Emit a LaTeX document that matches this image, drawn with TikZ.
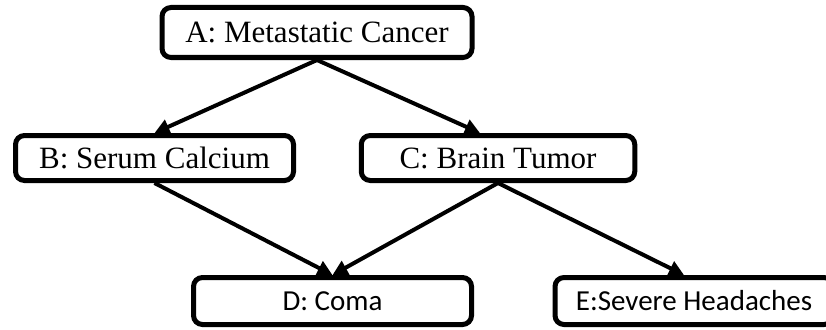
\documentclass[tikz,border=0pt]{standalone}
\usepackage{fontspec}
\setmainfont{Liberation Serif}
\newfontfamily\carlitofont{Carlito}
\usetikzlibrary{arrows.meta,calc}
\begin{document}
\begin{tikzpicture}[x=1pt,y=-1pt,
  box/.style={draw=black, line width=5pt, rounded corners=9pt, inner sep=0pt, fill=white},
  serifbox/.style={box, font=\fontsize{31}{36}\selectfont},
  sansbox/.style={box, font=\carlitofont\fontsize{29}{34}\selectfont},
  link/.style={line width=4pt, -{Triangle[length=15pt,width=15pt]}}]
\useasboundingbox (0,0) rectangle (826,329);
% nodes of the network
\node[serifbox, minimum width=310pt, minimum height=50pt] (A) at (317,32.5) {A: Metastatic Cancer};
\node[serifbox, minimum width=278pt, minimum height=45pt] (B) at (154.5,158) {B: Serum Calcium};
\node[serifbox, minimum width=273.5pt, minimum height=45pt] (C) at (498,158) {C: Brain Tumor};
\node[sansbox, minimum width=278pt, minimum height=47pt] (D) at (332.5,301) {D: Coma};
\node[sansbox, minimum width=278pt, minimum height=47pt] (E) at (694,301) {E:Severe Headaches};
% dependencies
\draw[link] (A.south) -- (B.north);
\draw[link] (A.south) -- ($(C.north)+(-18,0)$);
\draw[link] (B.south) -- (D.north);
\draw[link] (C.south) -- (D.north);
\draw[link] (C.south) -- ($(E.north)+(-10,0)$);
\end{tikzpicture}
\end{document}
